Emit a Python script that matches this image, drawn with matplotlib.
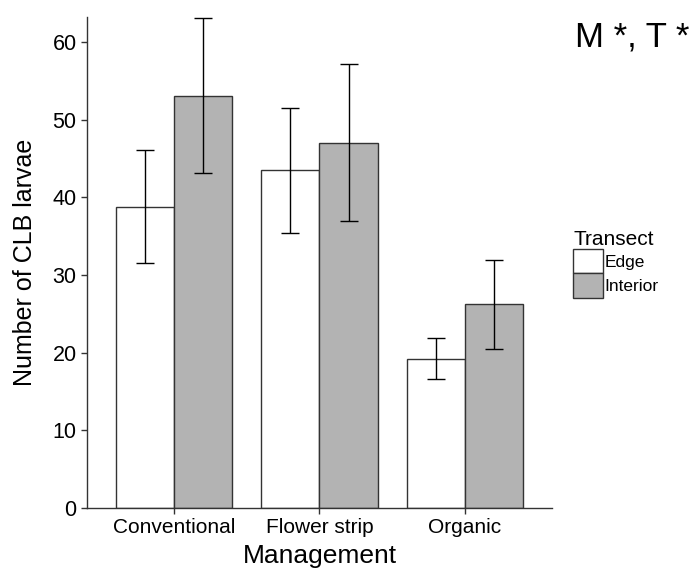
import numpy as np
import matplotlib
matplotlib.use('Agg')
import matplotlib.pyplot as plt
from matplotlib.patches import Patch

plt.rcParams['font.family'] = ['Liberation Sans', 'DejaVu Sans']

# data
management = ['Conventional', 'Flower strip', 'Organic']
transects = ['Edge', 'Interior']
edge_mean = [38.8, 43.5, 19.2]
edge_lo = [31.5, 35.4, 16.6]
edge_hi = [46.1, 51.5, 21.9]
interior_mean = [53.1, 47.0, 26.3]
interior_lo = [43.2, 36.9, 20.5]
interior_hi = [63.1, 57.2, 31.9]
y_ticks = [0, 10, 20, 30, 40, 50, 60]

fills = ['white', '#b3b3b3']
edgecol = '#333333'

fig = plt.figure(figsize=(6.93, 5.74), dpi=100)
ax = fig.add_axes([0.1255, 0.115, 0.671, 0.855])

x = np.arange(1, len(management) + 1)
w = 0.4
series = [(edge_mean, edge_lo, edge_hi), (interior_mean, interior_lo, interior_hi)]
for i, (m, lo, hi) in enumerate(series):
    m = np.array(m)
    xs = x + (i - 0.5) * w
    ax.bar(xs, m, width=w, color=fills[i], edgecolor=edgecol, linewidth=1.0, zorder=2)
    err = [m - np.array(lo), np.array(hi) - m]
    ax.errorbar(xs, m, yerr=err, fmt='none', ecolor='black', elinewidth=1.0,
                capsize=6.6, capthick=1.0, zorder=3)

ax.set_xlim(0.4, 3.6)
ax.set_ylim(0, 63.2)
ax.set_xticks(x)
ax.set_xticklabels(management, fontsize=15)
ax.set_yticks(y_ticks)
ax.tick_params(axis='y', labelsize=15.5, length=4, width=1, color='#333333')
ax.tick_params(axis='x', length=4, width=1, color='#333333')
for s in ['top', 'right']:
    ax.spines[s].set_visible(False)
for s in ['left', 'bottom']:
    ax.spines[s].set_color('#333333')
    ax.spines[s].set_linewidth(1.0)

ax.set_xlabel('Management', fontsize=19, labelpad=5)
ax.set_ylabel('Number of CLB larvae', fontsize=18, labelpad=11)

handles = [Patch(facecolor=fills[i], edgecolor=edgecol, label=transects[i]) for i in range(2)]
leg = fig.legend(handles=handles, title='Transect', loc='upper left',
                 bbox_to_anchor=(0.815, 0.615), frameon=False, fontsize=12.5,
                 title_fontsize=15, handlelength=1.7, handleheight=1.8,
                 handletextpad=0.1, labelspacing=0.0, borderpad=0)
leg._legend_box.align = 'left'

fig.text(0.995, 0.965, 'M *, T *', fontsize=25, ha='right', va='top')

fig.savefig('out.png', dpi=100)
